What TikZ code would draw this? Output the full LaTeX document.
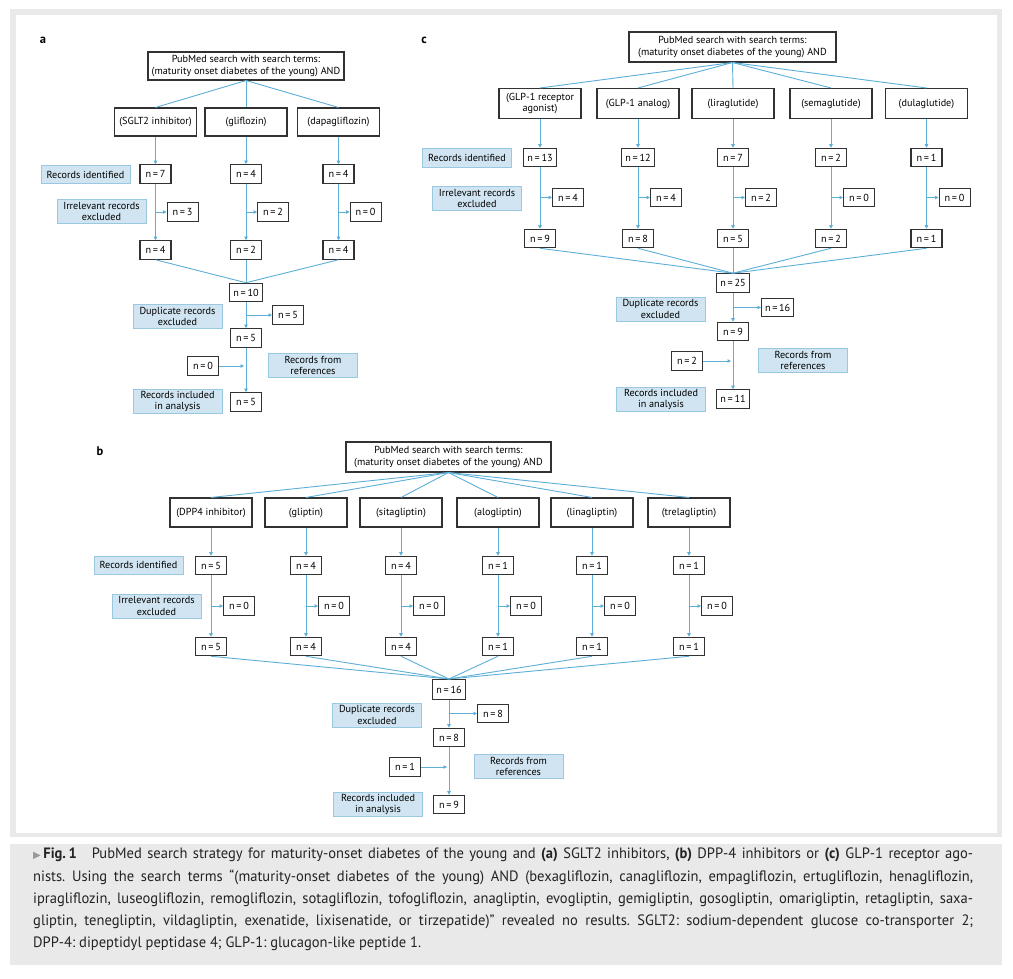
\documentclass[tikz,border=0pt]{standalone}
\usepackage{fontspec}
\setmainfont{PT Sans}
\newfontfamily\capfont[FakeStretch=0.97]{PT Sans}
\newfontfamily\symfont{DejaVu Sans}
\usetikzlibrary{positioning, arrows.meta}

\definecolor{flowblue}{RGB}{93,175,215}
\definecolor{notefill}{RGB}{208,229,241}
\definecolor{noteedge}{RGB}{155,200,225}
\definecolor{boxedge}{RGB}{50,50,50}
\definecolor{framegray}{RGB}{233,233,233}
\definecolor{captext}{RGB}{35,35,35}
\newcommand{\flowfont}{\fontsize{10.2}{11.5}\selectfont}
\newcommand{\cnt}[1]{n\,=\,#1}
\frenchspacing

\begin{document}
\begin{tikzpicture}[x=1pt, y=-1pt,
				search/.style={draw=boxedge, line width=1.05pt, align=center, font=\flowfont, minimum height=29pt, inner sep=2pt},
				term/.style={search, minimum width=82pt},
				count/.style={draw=boxedge, line width=1.05pt, font=\flowfont, minimum width=31pt, minimum height=18.5pt, inner xsep=3.5pt, inner ysep=2pt},
				note/.style={draw=noteedge, fill=notefill, line width=0.8pt, align=center, font=\flowfont, minimum width=89pt, minimum height=24pt, inner sep=1pt},
				link/.style={draw=flowblue, line width=0.9pt},
				flow/.style={link, -{Triangle[length=3.5pt, width=3.5pt]}},
				panel/.style={font=\fontsize{12.5}{12.5}\selectfont\bfseries},
			]
			\useasboundingbox (0,0) rectangle (1013,979);
			% frame and caption band
			\fill[framegray] (10,9) rectangle (1002,837);
			\fill[white] (16,15) rectangle (997,833);
			\fill[framegray] (10,844) rectangle (1002,965);

			% panel a
			\node[panel] (a-tag) at (43,40) {a};
			\node[search, minimum width=196pt, minimum height=28pt] (a-top) at (246,66) {PubMed search with search terms:\\(maturity onset diabetes of the young) AND};
			\foreach \x/\drug/\ni/\nx/\nr [count=\i] in {155.5/{(SGLT2 inhibitor)}/7/3/4, 246/{(gliflozin)}/4/2/2, 338.5/{(dapagliflozin)}/4/0/4} {
				\node[term, minimum height=28pt] (a-term-\i) at (\x,122) {\drug};
				\node[count] (a-id-\i) at (\x,174) {\cnt{\ni}};
				\node[count, anchor=west] (a-ex-\i) at (\x+11,212) {\cnt{\nx}};
				\node[count] (a-kept-\i) at (\x,250) {\cnt{\nr}};
				\draw[link] (a-top.south) -- (a-term-\i.north);
				\draw[flow] (a-term-\i) -- (a-id-\i);
				\draw[flow] (a-id-\i) -- (a-kept-\i);
				\draw[flow] (a-id-\i |- a-ex-\i) -- (a-ex-\i);
			}
			\node[count] (a-total) at (246,292.5) {\cnt{10}};
			\foreach \i in {1,2,3} \draw[link] (a-kept-\i.south) -- (a-total.north);
			\node[count, anchor=west] (a-dup) at (272,315) {\cnt{5}};
			\node[count] (a-unique) at (246,338) {\cnt{5}};
			\node[count, anchor=east] (a-ref) at (219,366) {\cnt{0}};
			\node[count] (a-final) at (246,402) {\cnt{5}};
			\draw[flow] (a-total) -- (a-unique);
			\draw[flow] (a-total |- a-dup) -- (a-dup);
			\draw[flow] (a-unique) -- (a-final);
			\draw[flow, shorten >=2pt] (a-ref) -- (a-unique |- a-ref);
			\node[note, minimum height=18pt] (a-identified) at (85.5,174.5) {Records identified};
			\node[note] (a-irrelevant) at (101.5,211.5) {Irrelevant records\\excluded};
			\node[note] (a-duplicate) at (177.5,316.5) {Duplicate records\\excluded};
			\node[note] (a-references) at (313,365.5) {Records from\\references};
			\node[note] (a-included) at (177.5,401.5) {Records included\\in analysis};

			% panel c
			\node[panel] (c-tag) at (424,40) {c};
			\node[search, minimum width=207pt, minimum height=30pt] (c-top) at (732.5,47) {PubMed search with search terms:\\(maturity onset diabetes of the young) AND};
			\foreach \x/\drug/\ni/\nx/\nr [count=\i] in {540/{(GLP-1 receptor\\agonist)}/13/4/9, 638/{(GLP-1 analog)}/12/4/8, 733/{(liraglutide)}/7/2/5, 831/{(semaglutide)}/2/0/2, 926.5/{(dulaglutide)}/1/0/1} {
				\node[term, minimum height=30pt] (c-term-\i) at (\x,103.5) {\drug};
				\node[count] (c-id-\i) at (\x,157.5) {\cnt{\ni}};
				\node[count, anchor=west] (c-ex-\i) at (\x+12,197.5) {\cnt{\nx}};
				\node[count] (c-kept-\i) at (\x,238.5) {\cnt{\nr}};
				\draw[link] (c-top.south) -- (c-term-\i.north);
				\draw[flow] (c-term-\i) -- (c-id-\i);
				\draw[flow] (c-id-\i) -- (c-kept-\i);
				\draw[flow] (c-id-\i |- c-ex-\i) -- (c-ex-\i);
			}
			\node[count] (c-total) at (733,283) {\cnt{25}};
			\foreach \i in {1,...,5} \draw[link] (c-kept-\i.south) -- (c-total.north);
			\node[count, anchor=west] (c-dup) at (761,307.5) {\cnt{16}};
			\node[count] (c-unique) at (733,331.5) {\cnt{9}};
			\node[count, anchor=east] (c-ref) at (703,361) {\cnt{2}};
			\node[count] (c-final) at (733,399) {\cnt{11}};
			\draw[flow] (c-total) -- (c-unique);
			\draw[flow] (c-total |- c-dup) -- (c-dup);
			\draw[flow] (c-unique) -- (c-final);
			\draw[flow, shorten >=2pt] (c-ref) -- (c-unique |- c-ref);
			\node[note, minimum height=19pt] (c-identified) at (467,157.5) {Records identified};
			\node[note] (c-irrelevant) at (477,198.5) {Irrelevant records\\excluded};
			\node[note] (c-duplicate) at (660.5,309) {Duplicate records\\excluded};
			\node[note] (c-references) at (803,360.5) {Records from\\references};
			\node[note] (c-included) at (661,399.5) {Records included\\in analysis};

			% panel b
			\node[panel] (b-tag) at (100,451) {b};
			\node[search, minimum width=205pt, minimum height=30pt] (b-top) at (448.5,457) {PubMed search with search terms:\\(maturity onset diabetes of the young) AND};
			\foreach \x/\drug/\ni/\nx/\nr [count=\i] in {211/{(DPP4 inhibitor)}/5/0/5, 306/{(gliptin)}/4/0/4, 401/{(sitagliptin)}/4/0/4, 498/{(alogliptin)}/1/0/1, 592/{(linagliptin)}/1/0/1, 689/{(trelagliptin)}/1/0/1} {
				\node[term] (b-term-\i) at (\x,512.5) {\drug};
				\node[count] (b-id-\i) at (\x,565.5) {\cnt{\ni}};
				\node[count, anchor=west] (b-ex-\i) at (\x+12,606) {\cnt{\nx}};
				\node[count] (b-kept-\i) at (\x,646.5) {\cnt{\nr}};
				\draw[link] (b-top.south) -- (b-term-\i.north);
				\draw[flow] (b-term-\i) -- (b-id-\i);
				\draw[flow] (b-id-\i) -- (b-kept-\i);
				\draw[flow] (b-id-\i |- b-ex-\i) -- (b-ex-\i);
			}
			\node[count, minimum height=20pt] (b-total) at (449,689.5) {\cnt{16}};
			\foreach \i in {1,...,6} \draw[link] (b-kept-\i.south) -- (b-total.north);
			\node[count, anchor=west] (b-dup) at (477,713.5) {\cnt{8}};
			\node[count] (b-unique) at (449,737.5) {\cnt{8}};
			\node[count, anchor=east] (b-ref) at (421,767) {\cnt{1}};
			\node[count] (b-final) at (449,804.5) {\cnt{9}};
			\draw[flow] (b-total) -- (b-unique);
			\draw[flow] (b-total |- b-dup) -- (b-dup);
			\draw[flow] (b-unique) -- (b-final);
			\draw[flow, shorten >=2pt] (b-ref) -- (b-unique |- b-ref);
			\node[note, minimum height=18pt] (b-identified) at (138.5,565) {Records identified};
			\node[note] (b-irrelevant) at (156.5,606) {Irrelevant records\\excluded};
			\node[note] (b-duplicate) at (377,715) {Duplicate records\\excluded};
			\node[note] (b-references) at (518.5,766.5) {Records from\\references};
			\node[note] (b-included) at (378,804.5) {Records included\\in analysis};

			% caption
			\node[anchor=north west, inner sep=0pt, text width=940pt, align=justify, text=captext, font=\capfont\fontsize{15}{22.2}\selectfont] (caption) at (33,848) {\noindent{\symfont\fontsize{10}{10}\selectfont\color{gray!80}▶}\,\textbf{Fig.\,1}\quad PubMed search strategy for maturity-onset diabetes of the young and \textbf{(a)} SGLT2 inhibitors, \textbf{(b)} DPP-4 inhibitors or \textbf{(c)} GLP-1 receptor ago-\linebreak
			nists. Using the search terms “(maturity-onset diabetes of the young) AND (bexagliflozin, canagliflozin, empagliflozin, ertugliflozin, henagliflozin,\linebreak
			ipragliflozin, luseogliflozin, remogliflozin, sotagliflozin, tofogliflozin, anagliptin, evogliptin, gemigliptin, gosogliptin, omarigliptin, retagliptin, saxa-\linebreak
			gliptin, tenegliptin, vildagliptin, exenatide, lixisenatide, or tirzepatide)” revealed no results. SGLT2: sodium-dependent glucose co-transporter 2;\linebreak
			DPP-4: dipeptidyl peptidase 4; GLP-1: glucagon-like peptide 1.};
		\end{tikzpicture}
\end{document}
